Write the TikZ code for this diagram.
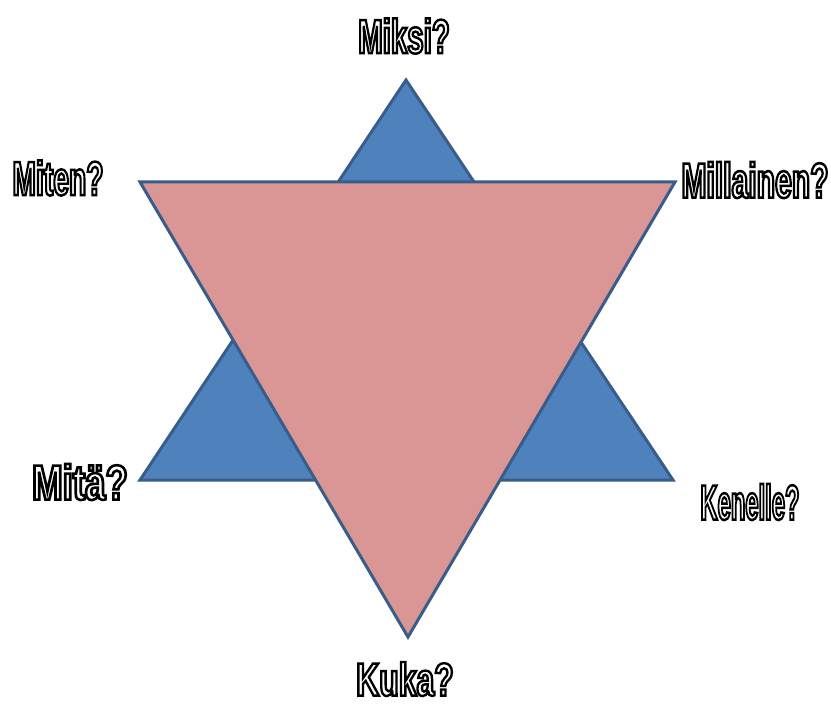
\documentclass[tikz,border=0pt]{standalone}
\usepackage{fontspec}
\usepackage{graphicx}
\newfontfamily\lblfont[FakeStretch=0.7]{Liberation Sans Bold}
\definecolor{starblue}{HTML}{4F81BD}
\definecolor{starpink}{HTML}{D99694}
\definecolor{starline}{HTML}{385D8A}
\newcommand{\outl}[3]{\scalebox{#1}[#2]{\special{pdf:code 2 Tr 2.2 w 0 G}#3\special{pdf:code 0 Tr}}}
\tikzset{
  tri/.style={draw=starline, line width=3pt, line join=miter},
  lbl/.style={font=\lblfont\fontsize{43}{43}\selectfont, inner sep=0pt, text=white}
}
\begin{document}
\begin{tikzpicture}[x=1pt,y=-1pt]
\useasboundingbox (0,0) rectangle (831,706);
\coordinate (bt) at (406,80);
\coordinate (bl) at (140,480);
\coordinate (br) at (673,480);
\coordinate (pl) at (140,182);
\coordinate (pr) at (675,182);
\coordinate (pb) at (408,637);
\draw[tri, fill=starblue] (bt) -- (br) -- (bl) -- cycle;
\draw[tri, fill=starpink] (pl) -- (pr) -- (pb) -- cycle;
\node[lbl] (miksi) at (404,36) {\outl{0.98}{1.12}{Miksi?}};
\node[lbl] (miten) at (58,178) {\outl{0.94}{1.12}{Miten?}};
\node[lbl] (millainen) at (755,180) {\outl{1.0}{1.15}{Millainen?}};
\node[lbl] (mita) at (80,482) {\outl{1.22}{1.15}{Mitä?}};
\node[lbl] (kenelle) at (750,502) {\outl{0.79}{1.15}{Kenelle?}};
\node[lbl] (kuka) at (405,679) {\outl{1.06}{1.08}{Kuka?}};
\end{tikzpicture}
\end{document}
